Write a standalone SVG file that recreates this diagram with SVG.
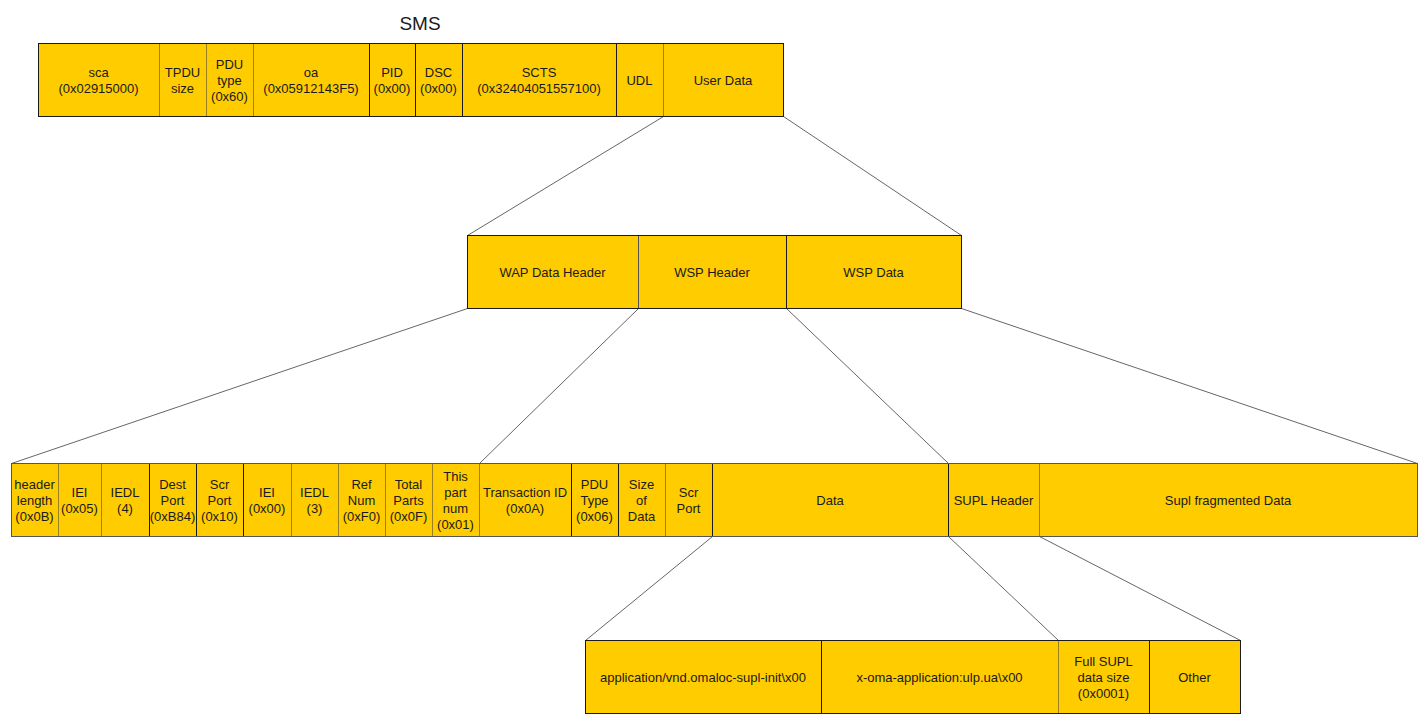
<svg xmlns="http://www.w3.org/2000/svg" width="1428" height="724" viewBox="0 0 1428 724">
<style>
rect{fill:#FFCC00;stroke-width:1}
.k{stroke:#1a1a1a}
.o{stroke:#9a8020}
.g{stroke:#555}
.f{fill:none}
text{font-family:"Liberation Sans",Arial,sans-serif;font-size:13px;fill:#1a1a1a;text-anchor:middle}
.t{font-size:19px}
.c{stroke:#666;stroke-width:1;fill:none}
</style>
<rect x="0" y="0" width="1428" height="724" style="fill:#fff;stroke:none"/>
<text class="t" x="420" y="30">SMS</text>
<g id="connectors">
<line class="c" x1="663.5" y1="116.5" x2="467.5" y2="235.5"/>
<line class="c" x1="783.5" y1="116.5" x2="961.5" y2="235.5"/>
<line class="c" x1="467.5" y1="308.5" x2="11.5" y2="463.5"/>
<line class="c" x1="638.5" y1="308.5" x2="479.5" y2="463.5"/>
<line class="c" x1="786.5" y1="308.5" x2="948.5" y2="463.5"/>
<line class="c" x1="961.5" y1="308.5" x2="1417.5" y2="463.5"/>
<line class="c" x1="712.5" y1="536.5" x2="585.5" y2="640.5"/>
<line class="c" x1="948.5" y1="536.5" x2="1058.5" y2="640.5"/>
<line class="c" x1="1039.5" y1="536.5" x2="1240.5" y2="640.5"/>
</g>
<g id="sms">
<g id="sca"><rect class="k" x="38.5" y="43.5" width="121" height="73"/><text x="98.5" y="77">sca</text><text x="98.5" y="93">(0x02915000)</text></g>
<g id="tpdu"><rect class="o" x="159.5" y="43.5" width="47" height="73"/><text x="182.5" y="77">TPDU</text><text x="182.5" y="93">size</text></g>
<g id="pdutype"><rect class="o" x="206.5" y="43.5" width="47" height="73"/><text x="229.5" y="69">PDU</text><text x="229.5" y="85">type</text><text x="229.5" y="101">(0x60)</text></g>
<g id="oa"><rect class="o" x="253.5" y="43.5" width="116" height="73"/><text x="311" y="77">oa</text><text x="311" y="93">(0x05912143F5)</text></g>
<g id="pid"><rect class="k" x="369.5" y="43.5" width="46" height="73"/><text x="392" y="77">PID</text><text x="392" y="93">(0x00)</text></g>
<g id="dsc"><rect class="k" x="415.5" y="43.5" width="47" height="73"/><text x="438.5" y="77">DSC</text><text x="438.5" y="93">(0x00)</text></g>
<g id="scts"><rect class="k" x="462.5" y="43.5" width="154" height="73"/><text x="539" y="77">SCTS</text><text x="539" y="93">(0x32404051557100)</text></g>
<g id="udl"><rect class="k" x="616.5" y="43.5" width="47" height="73"/><text x="639.5" y="85">UDL</text></g>
<g id="userdata"><rect class="o" x="663.5" y="43.5" width="120" height="73"/><text x="723" y="85">User Data</text></g>
<rect class="k f" x="38.5" y="43.5" width="745" height="73"/>
</g>
<g id="userdatarow">
<g id="wapheader"><rect class="k" x="467.5" y="235.5" width="171" height="73"/><text x="552.5" y="277">WAP Data Header</text></g>
<g id="wspheader"><rect class="g" x="638.5" y="235.5" width="148" height="73"/><text x="712" y="277">WSP Header</text></g>
<g id="wspdata"><rect class="k" x="786.5" y="235.5" width="175" height="73"/><text x="873.5" y="277">WSP Data</text></g>
<rect class="k f" x="467.5" y="235.5" width="494" height="73"/>
</g>
<g id="fields">
<g id="headerlength"><rect class="k" x="11.5" y="463.5" width="47" height="73"/><text x="34.5" y="489">header</text><text x="34.5" y="505">length</text><text x="34.5" y="521">(0x0B)</text></g>
<g id="iei1"><rect class="o" x="58.5" y="463.5" width="43" height="73"/><text x="79.5" y="497">IEI</text><text x="79.5" y="513">(0x05)</text></g>
<g id="iedl1"><rect class="o" x="101.5" y="463.5" width="48" height="73"/><text x="125" y="497">IEDL</text><text x="125" y="513">(4)</text></g>
<g id="destport"><rect class="k" x="149.5" y="463.5" width="47" height="73"/><text x="172.5" y="489">Dest</text><text x="172.5" y="505">Port</text><text x="172.5" y="521">(0xB84)</text></g>
<g id="scrport1"><rect class="k" x="196.5" y="463.5" width="47" height="73"/><text x="219.5" y="489">Scr</text><text x="219.5" y="505">Port</text><text x="219.5" y="521">(0x10)</text></g>
<g id="iei2"><rect class="k" x="243.5" y="463.5" width="48" height="73"/><text x="267" y="497">IEI</text><text x="267" y="513">(0x00)</text></g>
<g id="iedl2"><rect class="o" x="291.5" y="463.5" width="47" height="73"/><text x="314.5" y="497">IEDL</text><text x="314.5" y="513">(3)</text></g>
<g id="refnum"><rect class="o" x="338.5" y="463.5" width="47" height="73"/><text x="361.5" y="489">Ref</text><text x="361.5" y="505">Num</text><text x="361.5" y="521">(0xF0)</text></g>
<g id="totalparts"><rect class="o" x="385.5" y="463.5" width="47" height="73"/><text x="408.5" y="489">Total</text><text x="408.5" y="505">Parts</text><text x="408.5" y="521">(0x0F)</text></g>
<g id="thispart"><rect class="o" x="432.5" y="463.5" width="47" height="73"/><text x="455.5" y="481">This</text><text x="455.5" y="497">part</text><text x="455.5" y="513">num</text><text x="455.5" y="529">(0x01)</text></g>
<g id="transactionid"><rect class="o" x="479.5" y="463.5" width="92" height="73"/><text x="525" y="497">Transaction ID</text><text x="525" y="513">(0x0A)</text></g>
<g id="pdutype2"><rect class="k" x="571.5" y="463.5" width="47" height="73"/><text x="594.5" y="489">PDU</text><text x="594.5" y="505">Type</text><text x="594.5" y="521">(0x06)</text></g>
<g id="sizeofdata"><rect class="k" x="618.5" y="463.5" width="47" height="73"/><text x="641.5" y="489">Size</text><text x="641.5" y="505">of</text><text x="641.5" y="521">Data</text></g>
<g id="scrport2"><rect class="o" x="665.5" y="463.5" width="47" height="73"/><text x="688.5" y="497">Scr</text><text x="688.5" y="513">Port</text></g>
<g id="data"><rect class="k" x="712.5" y="463.5" width="236" height="73"/><text x="830" y="505">Data</text></g>
<g id="suplheader"><rect class="k" x="948.5" y="463.5" width="91" height="73"/><text x="993.5" y="505">SUPL Header</text></g>
<g id="suplfrag"><rect class="o" x="1039.5" y="463.5" width="378" height="73"/><text x="1228" y="505">Supl fragmented Data</text></g>
<rect class="g f" x="11.5" y="463.5" width="1406" height="73"/>
</g>
<g id="datarow">
<g id="appid"><rect class="k" x="585.5" y="640.5" width="236" height="73"/><text x="703" y="682">application/vnd.omaloc-supl-init\x00</text></g>
<g id="xoma"><rect class="k" x="821.5" y="640.5" width="237" height="73"/><text x="939.5" y="682">x-oma-application:ulp.ua\x00</text></g>
<g id="fullsupl"><rect class="o" x="1058.5" y="640.5" width="91" height="73"/><text x="1103.5" y="666">Full SUPL</text><text x="1103.5" y="682">data size</text><text x="1103.5" y="698">(0x0001)</text></g>
<g id="other"><rect class="k" x="1149.5" y="640.5" width="91" height="73"/><text x="1194.5" y="682">Other</text></g>
<rect class="k f" x="585.5" y="640.5" width="655" height="73"/>
</g>
</svg>
